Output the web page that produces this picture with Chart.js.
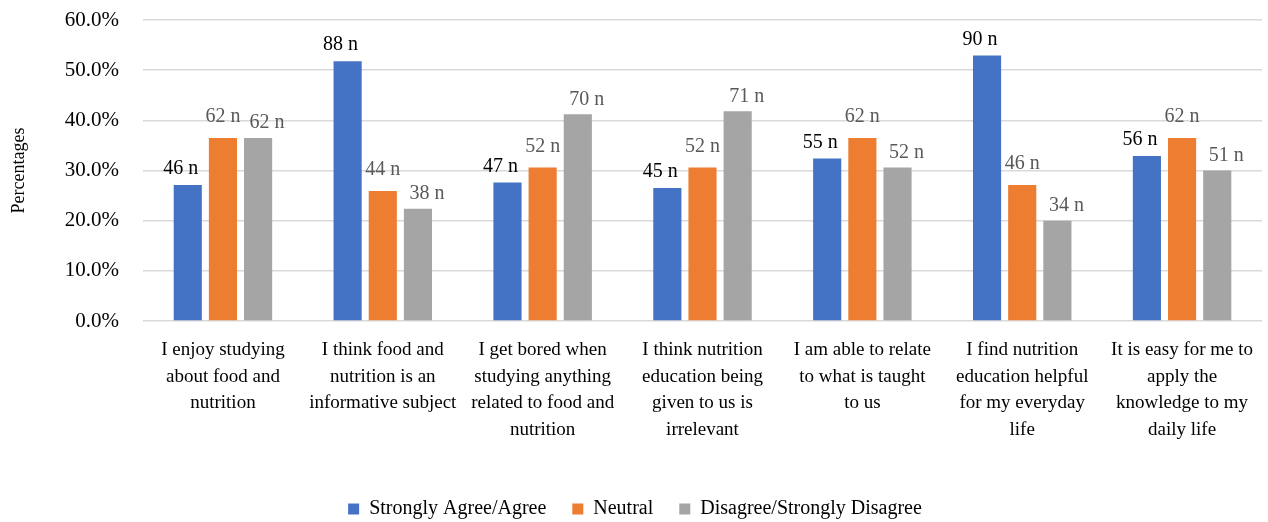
<!doctype html>
<html>
<head>
  <meta charset="utf-8">
  <title>Nutrition Attitudes</title>
  <style>
    html, body { margin:0; padding:0; background:#fff; }
    #wrap { width:1268px; height:522px; }
  </style>
  <script src="https://cdn.jsdelivr.net/npm/chart.js"></script>
</head>
<body>
  <div id="wrap"><canvas id="chart"></canvas></div>

  <script>
    const categories = [
      ['I enjoy studying', 'about food and', 'nutrition'],
      ['I think food and', 'nutrition is an', 'informative subject'],
      ['I get bored when', 'studying anything', 'related to food and', 'nutrition'],
      ['I think nutrition', 'education being', 'given to us is', 'irrelevant'],
      ['I am able to relate', 'to what is taught', 'to us'],
      ['I find nutrition', 'education helpful', 'for my everyday', 'life'],
      ['It is easy for me to', 'apply the', 'knowledge to my', 'daily life']
    ];
    const seriesNames = ['Strongly Agree/Agree', 'Neutral', 'Disagree/Strongly Disagree'];
    // percentages
    const agreePct    = [27.1, 51.8, 27.6, 26.5, 32.4, 52.9, 32.9];
    const neutralPct  = [36.5, 25.9, 30.6, 30.6, 36.5, 27.1, 36.5];
    const disagreePct = [36.5, 22.4, 41.2, 41.8, 30.6, 20.0, 30.0];
    // counts shown in the labels
    const agreeN    = [46, 88, 47, 45, 55, 90, 56];
    const neutralN  = [62, 44, 52, 52, 62, 46, 62];
    const disagreeN = [62, 38, 70, 71, 52, 34, 51];

    const FONT = '"Liberation Serif", "DejaVu Serif", serif';

    // "NN n" labels above the bars, nudged a bit like the Excel original
    const barLabels = {
      id: 'barLabels',
      afterDatasetsDraw(chart) {
        const ctx = chart.ctx;
        ctx.save();
        ctx.font = '20px ' + FONT;
        ctx.textAlign = 'center';
        ctx.textBaseline = 'middle';
        chart.data.datasets.forEach((ds, i) => {
          const meta = chart.getDatasetMeta(i);
          ctx.fillStyle = ds.labelColor;
          meta.data.forEach((bar, j) => {
            ctx.fillText(ds.counts[j] + ' n', bar.x + ds.labelDx, bar.y - ds.labelGap);
          });
        });
        ctx.restore();
      }
    };

    new Chart(document.getElementById('chart'), {
      type: 'bar',
      data: {
        labels: categories,
        datasets: [
          { label: seriesNames[0], data: agreePct, counts: agreeN, backgroundColor: '#4472C4',
            labelColor: '#000000', labelGap: 16, labelDx: -7 },
          { label: seriesNames[1], data: neutralPct, counts: neutralN, backgroundColor: '#ED7D31',
            labelColor: '#595959', labelGap: 21, labelDx: 0 },
          { label: seriesNames[2], data: disagreePct, counts: disagreeN, backgroundColor: '#A5A5A5',
            labelColor: '#595959', labelGap: 15, labelDx: 9 }
        ]
      },
      options: {
        responsive: true,
        maintainAspectRatio: false,
        animation: false,
        layout: { autoPadding: false, padding: { top: 20, right: 6, bottom: -7, left: 8 } },
        datasets: { bar: { categoryPercentage: 0.66, barPercentage: 0.8 } },
        scales: {
          x: {
            grid: { display: false },
            border: { display: false },
            ticks: { color: '#000', font: { family: FONT, size: 19, lineHeight: 1.4 }, maxRotation: 0, autoSkip: false, padding: 8 },
            afterFit(s) { s.height = 152; }
          },
          y: {
            min: 0, max: 60,
            grid: { color: '#D9D9D9', lineWidth: 1.5, drawTicks: false },
            border: { display: false },
            ticks: { stepSize: 10, color: '#000', padding: 24, font: { family: FONT, size: 21 },
              callback: v => v.toFixed(1) + '%' },
            title: { display: true, text: 'Percentages', color: '#000', font: { family: FONT, size: 18 }, padding: { top: 0, bottom: 10 } },
            afterFit(s) { s.width = 135; s.paddingTop = 0; s.paddingBottom = 0; }
          }
        },
        plugins: {
          legend: {
            position: 'bottom',
            labels: { color: '#000', font: { family: FONT, size: 20 }, boxWidth: 11, boxHeight: 11, padding: 26 }
          },
          tooltip: { enabled: false }
        }
      },
      plugins: [barLabels]
    });
  </script>
</body>
</html>
